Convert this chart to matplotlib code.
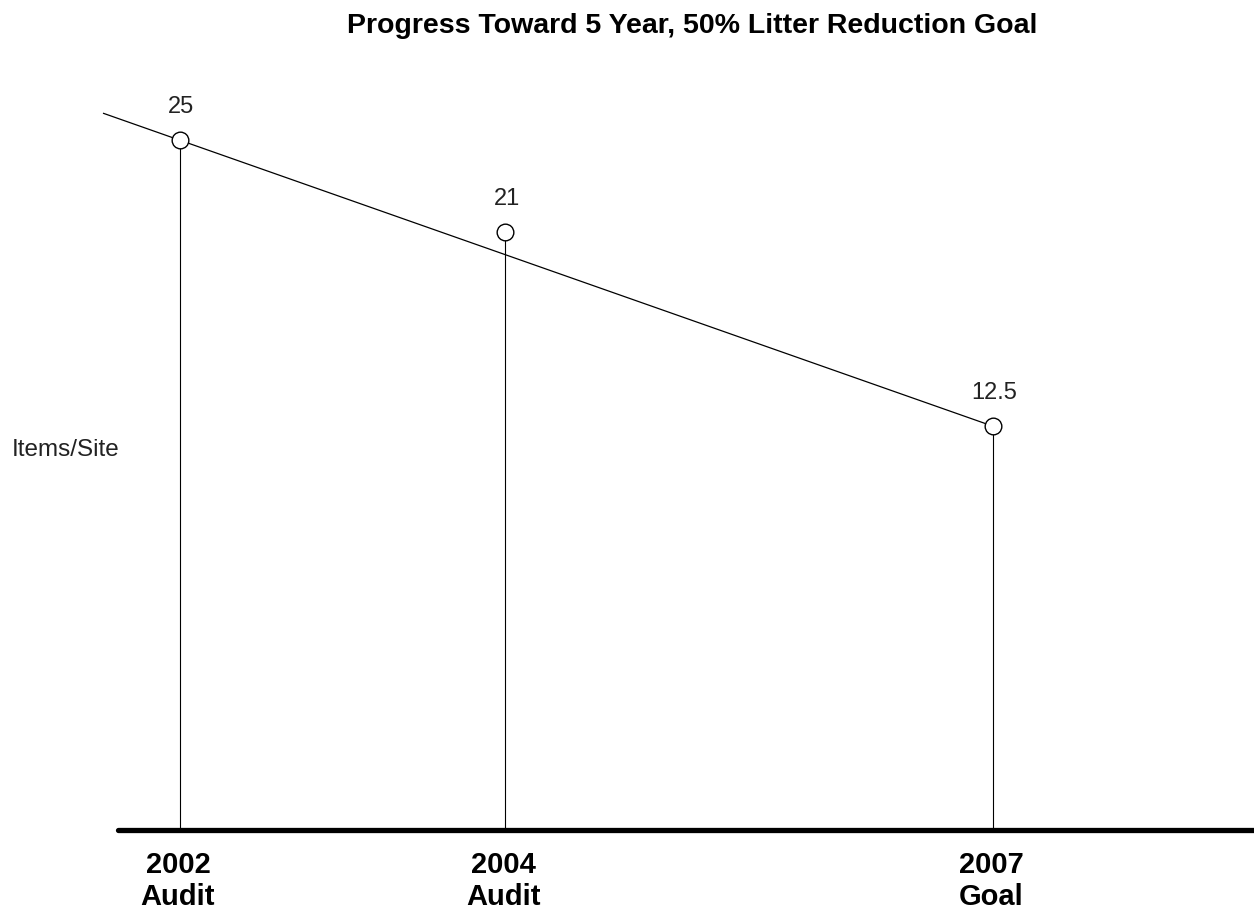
import matplotlib
matplotlib.use("Agg")
import matplotlib.pyplot as plt

# data
years = [2002, 2004, 2007]
items_per_site = [25, 21, 12.5]
value_labels = ["25", "21", "12.5"]
year_labels = ["2002", "2004", "2007"]
kind_labels = ["Audit", "Audit", "Goal"]

plt.rcParams["font.family"] = ["Liberation Sans", "DejaVu Sans"]

fig = plt.figure(figsize=(12.54, 9.09), dpi=100)
ax = fig.add_axes([0, 0, 1, 1])
ax.set_xlim(2000.893, 2008.605)
ax.set_ylim(-8.60, 31.13)
ax.axis("off")

baseline = -5.15
base_start = 2001.62
trend_start = 2001.53

# thick baseline
ax.plot([base_start, ax.get_xlim()[1] + 0.5], [baseline, baseline],
        color="black", lw=3.8, solid_capstyle="round", zorder=2)

# stems
for x, y in zip(years, items_per_site):
    ax.plot([x, x], [baseline, y], color="black", lw=0.8, zorder=1)

# trend line from start value to goal, extended left
slope = (items_per_site[-1] - items_per_site[0]) / (years[-1] - years[0])
y0 = items_per_site[0] + slope * (trend_start - years[0])
ax.plot([trend_start, years[-1]], [y0, items_per_site[-1]],
        color="black", lw=0.9, zorder=1)

# markers
ax.plot(years, items_per_site, "o", ms=12, mfc="white", mec="black",
        mew=1.0, ls="none", zorder=3)

for x, y, lab in zip(years, items_per_site, value_labels):
    ax.annotate(lab, (x, y), xytext=(1, 19.5), textcoords="offset points",
                ha="center", va="baseline", fontsize=17, color="#222222")

for x, yl, kl in zip(years, year_labels, kind_labels):
    ax.annotate(yl, (x, baseline), xytext=(-1.5, -31), textcoords="offset points",
                ha="center", va="baseline", fontsize=21, fontweight="bold")
    ax.annotate(kl, (x, baseline), xytext=(-1.5, -54), textcoords="offset points",
                ha="center", va="baseline", fontsize=21, fontweight="bold")

fig.text(692 / 1254, 1 - 33 / 909, "Progress Toward 5 Year, 50% Litter Reduction Goal",
         ha="center", va="baseline", fontsize=20.5, fontweight="bold")
fig.text(12 / 1254, 1 - 450 / 909, "Items/Site", ha="left", va="center",
         fontsize=17.5, color="#222222")

fig.savefig("out.png", dpi=100)
